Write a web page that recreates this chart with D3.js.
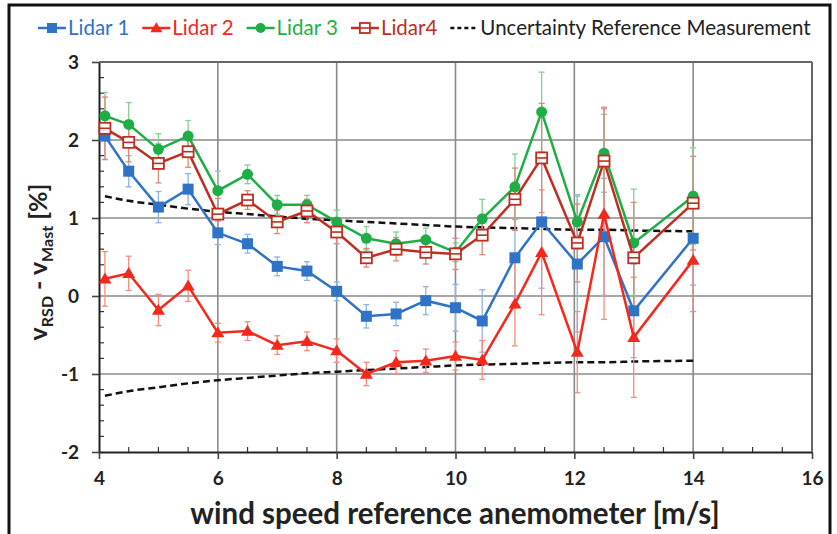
<!doctype html>
<html>
<head>
<meta charset="utf-8">
<style>
    body { margin: 0; background: #fff; }
    text { font-family: Lato, "Open Sans", sans-serif; }
    .tick text { font-weight: bold; font-size: 19px; fill: #222; }
</style>
<script src="https://d3js.org/d3.v7.min.js"></script>
</head>
<body>
<svg width="837" height="534"></svg>
<script>

    // wind speed bins (m/s)
    var windSpeed = [4.1, 4.5, 5, 5.5, 6, 6.5, 7, 7.5, 8, 8.5, 9, 9.5, 10, 10.45, 11, 11.45, 12.05, 12.5, 13, 14];

    var lidar1 = [2.05, 1.6, 1.14, 1.37, 0.81, 0.67, 0.38, 0.32, 0.06, -0.26, -0.23, -0.06, -0.15, -0.32, 0.49, 0.95, 0.41, 0.76, -0.19, 0.74];
    var lidar1Err = [0.3, 0.2, 0.2, 0.2, 0.15, 0.12, 0.12, 0.12, 0.12, 0.15, 0.15, 0.18, 0.3, 0.4, 0.5, 0.85, 0.87, 0.75, 0.6, 0.6];

    var lidar2 = [0.22, 0.29, -0.18, 0.13, -0.47, -0.45, -0.63, -0.58, -0.7, -1.0, -0.85, -0.83, -0.77, -0.82, -0.1, 0.56, -0.72, 1.05, -0.53, 0.46];
    var lidar2Err = [0.35, 0.22, 0.2, 0.2, 0.12, 0.12, 0.12, 0.12, 0.15, 0.15, 0.15, 0.15, 0.18, 0.25, 0.54, 0.8, 0.52, 1.35, 0.77, 0.66];

    var lidar3 = [2.31, 2.2, 1.88, 2.05, 1.35, 1.56, 1.17, 1.17, 0.95, 0.74, 0.67, 0.72, 0.56, 0.99, 1.4, 2.36, 0.95, 1.83, 0.68, 1.28];
    var lidar3Err = [0.3, 0.28, 0.2, 0.2, 0.25, 0.12, 0.12, 0.12, 0.15, 0.15, 0.15, 0.15, 0.12, 0.25, 0.42, 0.51, 0.35, 0.5, 0.69, 0.62];

    var lidar4 = [2.15, 1.97, 1.7, 1.85, 1.05, 1.23, 0.95, 1.09, 0.82, 0.49, 0.6, 0.56, 0.54, 0.78, 1.24, 1.77, 0.68, 1.73, 0.49, 1.19];
    var lidar4Err = [0.4, 0.25, 0.25, 0.2, 0.2, 0.12, 0.15, 0.15, 0.15, 0.12, 0.15, 0.15, 0.2, 0.25, 0.4, 0.7, 0.5, 0.69, 0.71, 0.6];

    // uncertainty of the reference measurement (+/-)
    var uncertainty = [1.28, 1.22, 1.17, 1.12, 1.08, 1.05, 1.02, 0.99, 0.97, 0.95, 0.93, 0.91, 0.89, 0.88, 0.87, 0.86, 0.85, 0.85, 0.84, 0.83];

    var xTicks = [4, 6, 8, 10, 12, 14, 16];
    var yTicks = [-2, -1, 0, 1, 2, 3];

    var series = [
        { name: "Lidar 1", values: lidar1, err: lidar1Err, color: "#2f73c6", errColor: "#8fb3e2", marker: "square" },
        { name: "Lidar 2", values: lidar2, err: lidar2Err, color: "#f2291c", errColor: "#f58c7e", marker: "triangle" },
        { name: "Lidar 3", values: lidar3, err: lidar3Err, color: "#1fae46", errColor: "#86cf95", marker: "circle" },
        { name: "Lidar4", values: lidar4, err: lidar4Err, color: "#bd2f22", errColor: "#d98a7c", marker: "open" }
    ];

    var svg = d3.select("svg");
    var pLeft = 99, pRight = 812, pTop = 62, pBottom = 452;

    var x = d3.scaleLinear().domain([4, 16]).range([pLeft, pRight]);
    var y = d3.scaleLinear().domain([-2, 3]).range([pBottom, pTop]);

    // outer frame of the figure
    svg.append("rect")
        .attr("x", 9).attr("y", 5).attr("width", 821).attr("height", 560)
        .attr("fill", "none").attr("stroke", "#111").attr("stroke-width", 3);

    // grid
    var grid = svg.append("g");
    grid.selectAll(".gx").data(xTicks.slice(1))
        .enter().append("line")
        .attr("x1", function(d) { return x(d); }).attr("x2", function(d) { return x(d); })
        .attr("y1", pTop).attr("y2", pBottom)
        .attr("stroke", "#8a8a8a").attr("stroke-width", 1.6);
    grid.selectAll(".gy").data(yTicks.slice(1))
        .enter().append("line")
        .attr("x1", pLeft).attr("x2", pRight)
        .attr("y1", function(d) { return y(d); }).attr("y2", function(d) { return y(d); })
        .attr("stroke", "#8a8a8a").attr("stroke-width", 1.6);

    // minor ticks, pointing into the plot
    var minorX = d3.range(4.5, 16, 0.5).filter(function(d) { return d % 2 !== 0; });
    var minorY = d3.range(-1.8, 3, 0.2).filter(function(d) { return Math.abs(d - Math.round(d)) > 0.01; });
    svg.append("g").selectAll("line").data(minorX).enter().append("line")
        .attr("x1", function(d) { return x(d); }).attr("x2", function(d) { return x(d); })
        .attr("y1", pBottom).attr("y2", pBottom - 5)
        .attr("stroke", "#333").attr("stroke-width", 1.2);
    svg.append("g").selectAll("line").data(minorY).enter().append("line")
        .attr("x1", pLeft).attr("x2", pLeft + 5)
        .attr("y1", function(d) { return y(d); }).attr("y2", function(d) { return y(d); })
        .attr("stroke", "#333").attr("stroke-width", 1.2);

    // axes
    var plain = function(d) { return String(d); };
    var xAxis = svg.append("g")
        .attr("transform", "translate(0," + pBottom + ")")
        .call(d3.axisBottom(x).tickValues(xTicks).tickFormat(plain).tickSize(7).tickPadding(13).tickSizeOuter(0));
    var yAxis = svg.append("g")
        .attr("transform", "translate(" + pLeft + ",0)")
        .call(d3.axisLeft(y).tickValues(yTicks).tickFormat(plain).tickSize(7).tickPadding(13).tickSizeOuter(0));
    [xAxis, yAxis].forEach(function(a) {
        a.select(".domain").attr("stroke", "#222").attr("stroke-width", 2);
        a.selectAll(".tick line").attr("stroke", "#444").attr("stroke-width", 1.6);
    });

    svg.append("line")
        .attr("x1", pLeft).attr("x2", pRight).attr("y1", pTop).attr("y2", pTop)
        .attr("stroke", "#666").attr("stroke-width", 2);
    svg.append("line")
        .attr("x1", pRight).attr("x2", pRight).attr("y1", pTop).attr("y2", pBottom)
        .attr("stroke", "#666").attr("stroke-width", 2);

    // uncertainty band edges
    var dashed = d3.line()
        .x(function(d, i) { return x(windSpeed[i]); })
        .y(function(d) { return y(d); })
        .curve(d3.curveMonotoneX);
    svg.append("path").datum(uncertainty)
        .attr("d", dashed)
        .attr("fill", "none").attr("stroke", "#111").attr("stroke-width", 2.5).attr("stroke-dasharray", "7,4");
    svg.append("path").datum(uncertainty.map(function(d) { return -d; }))
        .attr("d", dashed)
        .attr("fill", "none").attr("stroke", "#111").attr("stroke-width", 2.5).attr("stroke-dasharray", "7,4");

    function drawMarker(g, s, cx, cy, size) {
        if (s.marker === "square") {
            g.append("rect").attr("x", cx - size / 2).attr("y", cy - size / 2)
                .attr("width", size).attr("height", size).attr("fill", s.color);
        } else if (s.marker === "open") {
            g.append("rect").attr("x", cx - size / 2).attr("y", cy - size / 2)
                .attr("width", size).attr("height", size)
                .attr("fill", "#fff").attr("stroke", s.color).attr("stroke-width", 1.8);
            g.append("line").attr("x1", cx - size / 2).attr("x2", cx + size / 2)
                .attr("y1", cy).attr("y2", cy).attr("stroke", s.color).attr("stroke-width", 1.6);
        } else if (s.marker === "circle") {
            g.append("circle").attr("cx", cx).attr("cy", cy).attr("r", size / 2).attr("fill", s.color);
        } else {
            var h = size * 0.95;
            g.append("path")
                .attr("d", "M" + cx + "," + (cy - h * 0.6) + "L" + (cx + size / 2 + 1) + "," + (cy + h * 0.45) + "L" + (cx - size / 2 - 1) + "," + (cy + h * 0.45) + "Z")
                .attr("fill", s.color);
        }
    }

    var line = d3.line()
        .x(function(d, i) { return x(windSpeed[i]); })
        .y(function(d) { return y(d); });

    // error bars first, then lines and markers
    series.forEach(function(s) {
        var eb = svg.append("g");
        s.values.forEach(function(v, i) {
            var cx = x(windSpeed[i]);
            var y1 = y(v + s.err[i]), y2 = y(v - s.err[i]);
            eb.append("line").attr("x1", cx).attr("x2", cx).attr("y1", y1).attr("y2", y2)
                .attr("stroke", s.errColor).attr("stroke-width", 1.3);
            [y1, y2].forEach(function(yy) {
                eb.append("line").attr("x1", cx - 3).attr("x2", cx + 3).attr("y1", yy).attr("y2", yy)
                    .attr("stroke", s.errColor).attr("stroke-width", 1.3);
            });
        });
    });

    series.forEach(function(s) {
        svg.append("path").datum(s.values)
            .attr("d", line)
            .attr("fill", "none").attr("stroke", s.color).attr("stroke-width", 2.5);
        var mg = svg.append("g");
        s.values.forEach(function(v, i) {
            drawMarker(mg, s, x(windSpeed[i]), y(v), 11);
        });
    });

    // axis titles
    svg.append("text")
        .attr("x", 455).attr("y", 524)
        .attr("text-anchor", "middle")
        .attr("font-size", "29.5px").attr("font-weight", "bold").attr("fill", "#222")
        .text("wind speed reference anemometer [m/s]");

    var yt = svg.append("text")
        .attr("transform", "translate(47,262) rotate(-90)")
        .attr("text-anchor", "middle")
        .attr("font-size", "25px").attr("font-weight", "bold").attr("fill", "#222");
    yt.append("tspan").text("v");
    yt.append("tspan").attr("font-size", "16px").attr("dy", 6).text("RSD");
    yt.append("tspan").attr("dy", -6).text(" - v");
    yt.append("tspan").attr("font-size", "16px").attr("dy", 6).text("Mast");
    yt.append("tspan").attr("dy", -6).text(" [%]");

    // legend
    var legend = svg.append("g").attr("transform", "translate(38,28)");
    var lx = 0;
    series.forEach(function(s) {
        var item = legend.append("g").attr("transform", "translate(" + lx + ",0)");
        item.append("line").attr("x1", 0).attr("x2", 28).attr("y1", 0).attr("y2", 0)
            .attr("stroke", s.color).attr("stroke-width", 2.5);
        drawMarker(item, s, 14, 0, 10);
        var t = item.append("text").attr("x", 30).attr("y", 7)
            .attr("font-size", "20.5px").attr("fill", s.color).text(s.name);
        lx += 30 + t.node().getComputedTextLength() + 13;
    });
    var dl = legend.append("g").attr("transform", "translate(" + lx + ",0)");
    dl.append("line").attr("x1", 0).attr("x2", 28).attr("y1", 0).attr("y2", 0)
        .attr("stroke", "#111").attr("stroke-width", 2.5).attr("stroke-dasharray", "4,3");
    dl.append("text").attr("x", 30).attr("y", 7)
        .attr("font-size", "20.5px").attr("fill", "#222").text("Uncertainty Reference Measurement");

</script>
</body>
</html>
